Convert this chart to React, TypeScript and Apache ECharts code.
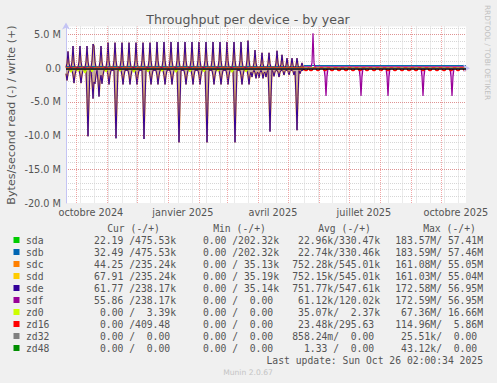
import React, { useEffect, useRef } from "react";
import * as echarts from "echarts";

// ---------- axis / calendar data (days since 21 Sep 2024 02:00) ----------
const TOTAL_DAYS = 400;
const xLabelDays = [24.9, 116.9, 206.9, 297.9, 389.9];
const xLabelTexts = ["octobre 2024", "janvier 2025", "avril 2025", "juillet 2025", "octobre 2025"];
const monthStartDays = [9.92, 40.92, 70.92, 101.92, 132.92, 160.92, 191.92, 221.92, 252.92, 282.92, 313.92, 344.92, 374.92];
const minorGridStart = -5.08; // biweekly grid (Mondays)
const minorGridStep = 14;
const yMin = -20;
const yMax = 6.2;

// ---------- series values (M bytes/s) ----------
// sdc / sdd / sde weekly writes (+)
const writeDays = [2, 7, 14, 21, 27, 28, 35, 42, 49, 56, 63, 70, 77, 84, 91, 98, 105, 112, 119, 126, 133, 140, 147, 154, 161, 168, 175, 182, 189, 196, 203, 211, 216, 221, 226, 231, 236];
const writePeaks = [2.5, 3.3, 3.3, 3.3, 3.6, 3.3, 3.3, 3.8, 3.8, 3.8, 3.8, 3.8, 3.8, 3.8, 3.9, 3.9, 3.9, 3.9, 3.9, 3.9, 3.9, 3.9, 3.9, 3.9, 3.9, 3.9, 3.9, 4.1, 2.7, 2.3, 2.3, 2.6, 2.0, 1.5, 1.5, 1.5, 0.8];
const writeLevels = [[0, 0.12], [238, 0]];
const writeShoulder = 0.3; // share of the peak seen on the day before / after
// sdc / sdd / sde reads (-)
const readDays = [1, 8, 15, 22, 27, 29, 33, 36, 43, 50, 57, 64, 71, 78, 85, 92, 99, 106, 113, 120, 127, 134, 141, 148, 155, 162, 169, 176, 183, 186, 190, 193, 197, 200, 204, 208, 213, 218, 223, 228, 231, 234];
const readPeaks = [-1.8, -2.2, -2.2, -10.1, -4.5, -2.3, -4.2, -2.3, -2.4, -10.4, -2.4, -2.4, -2.4, -10.5, -2.4, -2.4, -2.4, -2.4, -11.0, -2.4, -2.4, -2.4, -11.0, -2.4, -2.4, -2.4, -11.0, -2.4, -2.4, -1.3, -1.5, -1.4, -1.5, -1.3, -9.4, -1.2, -1.3, -1.0, -1.0, -1.0, -9.2, -0.8];
const readLevels = [[0, -0.3], [238, 0]];
const readShoulder = 0.45;
// sda / sdb
const sdabWriteLevels = [[0, 0.24], [238, 0.4]];
// sdf
const sdfWriteLevels = [[0, 0], [238, 0.2]];
const sdfWriteDays = [247];
const sdfWritePeaks = [5.2];
const sdfReadDays = [260, 295, 322, 357, 386];
const sdfReadPeaks = [-4.1, -4.1, -4.1, -4.1, -4.1];
// zd0
const zd0ReadDays = [5, 12, 19, 26, 40, 54, 68, 82, 96, 110, 124, 138, 152, 166, 180];
const zd0ReadPeaks = [-0.6, -0.4, -0.7, -0.5, -0.5, -0.4, -0.6, -0.5, -0.4, -0.6, -0.5, -0.5, -0.4, -0.6, -0.5];
// zd16
const zd16ReadDays = [240, 245, 252, 259, 266, 273, 280, 287, 294, 301, 308, 315, 322, 329, 336, 343, 350, 357, 364, 371, 378, 385, 392, 399];
const zd16ReadPeaks = [-0.35, -0.35, -0.35, -0.35, -0.35, -0.35, -0.35, -0.35, -0.35, -0.35, -0.35, -0.35, -0.35, -0.35, -0.35, -0.35, -0.35, -0.35, -0.35, -0.35, -0.35, -0.35, -0.35, -0.35];
const zeroLevels = [[0, 0]];

// ---------- legend table ----------
const deviceNames = ["sda", "sdb", "sdc", "sdd", "sde", "sdf", "zd0", "zd16", "zd32", "zd48"];
const deviceColors = ["#00CC00", "#0066B3", "#FF8000", "#FFCC00", "#330099", "#990099", "#CCFF00", "#FF0000", "#808080", "#008F00"];
const curCol = ["22.19 /475.53k", "32.49 /475.53k", "44.25 /235.24k", "67.91 /235.24k", "61.77 /238.17k", "55.86 /238.17k", "0.00 / 3.39k", "0.00 /409.48", "0.00 / 0.00", "0.00 / 0.00"];
const minCol = ["0.00 /202.32k", "0.00 /202.32k", "0.00 / 35.13k", "0.00 / 35.19k", "0.00 / 35.14k", "0.00 / 0.00", "0.00 / 0.00", "0.00 / 0.00", "0.00 / 0.00", "0.00 / 0.00"];
const avgCol = ["22.96k/330.47k", "22.74k/330.46k", "752.28k/545.01k", "752.15k/545.01k", "751.77k/547.61k", "61.12k/120.02k", "35.07k/ 2.37k", "23.48k/295.63", "858.24m/ 0.00", "1.33 / 0.00"];
const maxCol = ["183.57M/ 57.41M", "183.59M/ 57.46M", "161.08M/ 55.05M", "161.03M/ 55.04M", "172.58M/ 56.95M", "172.59M/ 56.95M", "67.36M/ 16.66M", "114.96M/ 5.86M", "25.51k/ 0.00", "43.12k/ 0.00"];
const headerTexts = ["Cur (-/+)", "Min (-/+)", "Avg (-/+)", "Max (-/+)"];
const lastUpdate = "Last update: Sun Oct 26 02:00:34 2025";

function daily(levels: number[][], days: number[], vals: number[], shoulder = 0) {
  const out: number[][] = [];
  for (let d = 0; d <= TOTAL_DAYS; d++) {
    let base = 0;
    for (const [s, v] of levels) if (d >= s) base = v;
    let val = base;
    const i = days.indexOf(d);
    if (i >= 0) val = vals[i];
    else if (shoulder > 0) {
      for (const nb of [d - 1, d + 1]) {
        const j = days.indexOf(nb);
        if (j >= 0) {
          const s = vals[j] * shoulder;
          if (Math.abs(s) > Math.abs(val)) val = s;
        }
      }
    }
    out.push([d, val]);
  }
  return out;
}

function line(name: string, color: string, data: number[][], width: number, opacity: number, z: number, area?: string) {
  const s: any = {
    type: "line",
    name,
    data,
    xAxisIndex: 0,
    yAxisIndex: 0,
    showSymbol: false,
    symbol: "none",
    silent: true,
    z,
    lineStyle: { color, width, opacity },
    itemStyle: { color },
    emphasis: { disabled: true },
  };
  if (area) s.areaStyle = { color: area, origin: 0 };
  return s;
}

const MONO = "DejaVu Sans Mono";
const SANS = "DejaVu Sans";
const FS = 9.72;
const CW = 0.602 * FS;
const TXT = "#555555";

function legendGraphics() {
  const els: any[] = [];
  const colEnds = [176, 279, 380, 483];
  const headerCenters = [133.5, 239.5, 344.5, 449.5];
  const t = (x: number, y: number, text: string, align: string, extra: any = {}) => ({
    type: "text",
    x,
    y,
    ...extra,
    style: { text, fontFamily: MONO, fontSize: FS, fill: TXT, align, verticalAlign: "middle", textAlign: align, textVerticalAlign: "middle", ...(extra.style || {}) },
  });
  headerTexts.forEach((h, i) => els.push(t(headerCenters[i], 228.5, h, "center")));
  const cols = [curCol, minCol, avgCol, maxCol];
  deviceNames.forEach((n, r) => {
    const y = 240 + 12 * r;
    els.push({ type: "rect", shape: { x: 13.5, y: y - 3, width: 6, height: 6 }, style: { fill: deviceColors[r] } });
    els.push(t(26, y, n, "left"));
    cols.forEach((col, c) => {
      const s = col[r];
      const k = s.indexOf("/");
      const a = s.slice(0, k).trim();
      const b = s.slice(k + 1).trim();
      const aText = (/[a-zA-Z]$/.test(a) ? a : a + " ") + "/";
      const slashRight = colEnds[c] - 7 * CW;
      const bRight = colEnds[c] - (/[a-zA-Z]$/.test(b) ? 0 : CW);
      els.push(t(slashRight, y, aText, "right"));
      els.push(t(bRight, y, b, "right"));
    });
  });
  els.push(t(483, 360, lastUpdate, "right"));
  els.push(t(248, 372, "Munin 2.0.67", "center", { style: { fontFamily: SANS, fontSize: 7.6, fill: "#c4c4c4" } }));
  els.push(t(248, 19, "Throughput per device - by year", "center", { style: { fontFamily: SANS, fontSize: 12.6 } }));
  els.push(t(11.5, 115, "Bytes/second read (-) / write (+)", "center", { rotation: Math.PI / 2, style: { fontFamily: SANS, fontSize: 11.1 } }));
  els.push(t(487, 52.5, "RRDTOOL / TOBI OETIKER", "center", { rotation: -Math.PI / 2, style: { fontFamily: SANS, fontSize: 7.4, fill: "#c0c0c0" } }));
  return els;
}

function buildOption() {
  const RED = "rgba(230,80,80,0.5)";
  const GREY = "#d6d6d6";
  const AXIS = "#c4c4f4";
  const writeData = daily(writeLevels, writeDays, writePeaks, writeShoulder);
  const readData = daily(readLevels, readDays, readPeaks, readShoulder);
  const zero = daily(zeroLevels, [], []);
  const series: any[] = [
    {
      type: "line",
      data: [[0, 0]],
      showSymbol: false,
      symbol: "none",
      silent: true,
      z: 1,
      lineStyle: { opacity: 0 },
      markLine: {
        silent: true,
        symbol: ["none", "none"],
        label: { show: false },
        lineStyle: { color: RED, type: [1, 1], width: 1 },
        emphasis: { disabled: true },
        data: monthStartDays.map((d) => ({ xAxis: d })),
      },
    },
    line("zd32", "#808080", zero, 1, 1, 2),
    line("zd48", "#008F00", zero, 1, 1, 2),
    line("sda read", "#00CC00", zero, 1, 1, 2),
    line("sda write", "#00CC00", daily(sdabWriteLevels, [], []), 1, 1, 2),
    line("sdb read", "#0066B3", zero, 1, 1, 2),
    line("sdb write", "#0066B3", daily(sdabWriteLevels, [], []), 1, 1, 2),
    line("sdc read", "#FF8000", readData, 1.6, 0.6, 2, "rgba(150,100,85,0.75)"),
    line("sdc write", "#FF8000", writeData, 1.6, 0.6, 2, "rgba(150,100,85,0.75)"),
    line("sdd read", "#FFCC00", readData, 1.2, 0.4, 2),
    line("sdd write", "#FFCC00", writeData, 1.2, 0.4, 2),
    line("sde read", "#330099", readData, 1, 1, 2),
    line("sde write", "#330099", writeData, 1, 1, 2),
    line("sdf read", "#990099", daily(zeroLevels, sdfReadDays, sdfReadPeaks, 0.3), 1.2, 1, 2, "rgba(200,40,200,0.55)"),
    line("sdf write", "#990099", daily(sdfWriteLevels, sdfWriteDays, sdfWritePeaks, 0.15), 1.2, 1, 2),
    line("zd0 read", "#CCFF00", daily(zeroLevels, zd0ReadDays, zd0ReadPeaks, 0.5), 1.4, 1, 2),
    line("zd16 read", "#FF0000", daily(zeroLevels, zd16ReadDays, zd16ReadPeaks, 0.9), 1.5, 1, 2),
    {
      type: "line",
      data: [[0, 0]],
      showSymbol: false,
      symbol: "none",
      silent: true,
      z: 5,
      lineStyle: { opacity: 0 },
      markLine: {
        silent: true,
        symbol: ["none", "none"],
        label: { show: false },
        lineStyle: { color: "#000000", type: "solid", width: 1.5 },
        emphasis: { disabled: true },
        data: [{ yAxis: 0 }],
      },
    },
  ];

  return {
    animation: false,
    backgroundColor: "#f0f0f0",
    textStyle: { fontFamily: SANS },
    grid: { left: 66, top: 26.5, width: 400, height: 176.5, show: true, backgroundColor: "#ffffff", borderWidth: 0, containLabel: false, outerBoundsMode: "none" },
    xAxis: [
      {
        type: "value",
        min: 0,
        max: TOTAL_DAYS,
        position: "bottom",
        z: 3,
        axisLine: { show: true, lineStyle: { color: AXIS, width: 1 }, symbol: ["none", "arrow"], symbolSize: [6, 7], symbolOffset: [0, 4] },
        axisTick: { show: false },
        splitLine: { show: false },
        axisLabel: {
          customValues: xLabelDays,
          formatter: (v: number) => {
            const i = xLabelDays.findIndex((d) => Math.abs(d - v) < 0.5);
            return i >= 0 ? xLabelTexts[i] : "";
          },
          fontFamily: SANS,
          fontSize: FS,
          color: TXT,
          margin: 4,
        },
      },
      {
        type: "value",
        min: minorGridStart,
        max: minorGridStart + TOTAL_DAYS,
        interval: minorGridStep,
        position: "bottom",
        z: 0,
        axisLine: { show: false },
        axisTick: { show: false },
        axisLabel: { show: false },
        splitLine: { show: true, showMinLine: false, showMaxLine: false, lineStyle: { color: GREY, type: [1, 1], width: 1 } },
      },
    ],
    yAxis: [
      {
        type: "value",
        min: yMin,
        max: yMax,
        interval: 5,
        position: "left",
        z: 1,
        axisLine: { show: true, lineStyle: { color: AXIS, width: 1 }, symbol: ["none", "arrow"], symbolSize: [6, 7], symbolOffset: [0, 4] },
        axisTick: { show: false },
        axisLabel: {
          showMaxLabel: false,
          formatter: (v: number) => {
            if (Math.abs(v % 5) > 1e-6) return "";
            if (Math.abs(v) < 1e-9) return "0.0";
            return v.toFixed(1) + " M";
          },
          fontFamily: SANS,
          fontSize: FS,
          color: TXT,
          margin: 5,
        },
        splitLine: { show: true, showMinLine: false, showMaxLine: false, lineStyle: { color: RED, type: [1, 1], width: 1 } },
      },
      {
        type: "value",
        min: yMin,
        max: yMax,
        interval: 1,
        position: "left",
        z: 0,
        axisLine: { show: false },
        axisTick: { show: false },
        axisLabel: { show: false },
        splitLine: { show: true, showMinLine: false, showMaxLine: false, lineStyle: { color: GREY, type: [1, 1], width: 1 } },
      },
    ],
    series,
    graphic: legendGraphics(),
  };
}

export default function App() {
  const ref = useRef<HTMLDivElement>(null);
  useEffect(() => {
    const chart = echarts.init(ref.current!, undefined, { renderer: "svg" });
    chart.setOption(buildOption() as any);
    return () => chart.dispose();
  }, []);
  return <div ref={ref} style={{ position: "fixed", left: 0, top: 0, width: 497, height: 383, background: "#f0f0f0" }} />;
}
